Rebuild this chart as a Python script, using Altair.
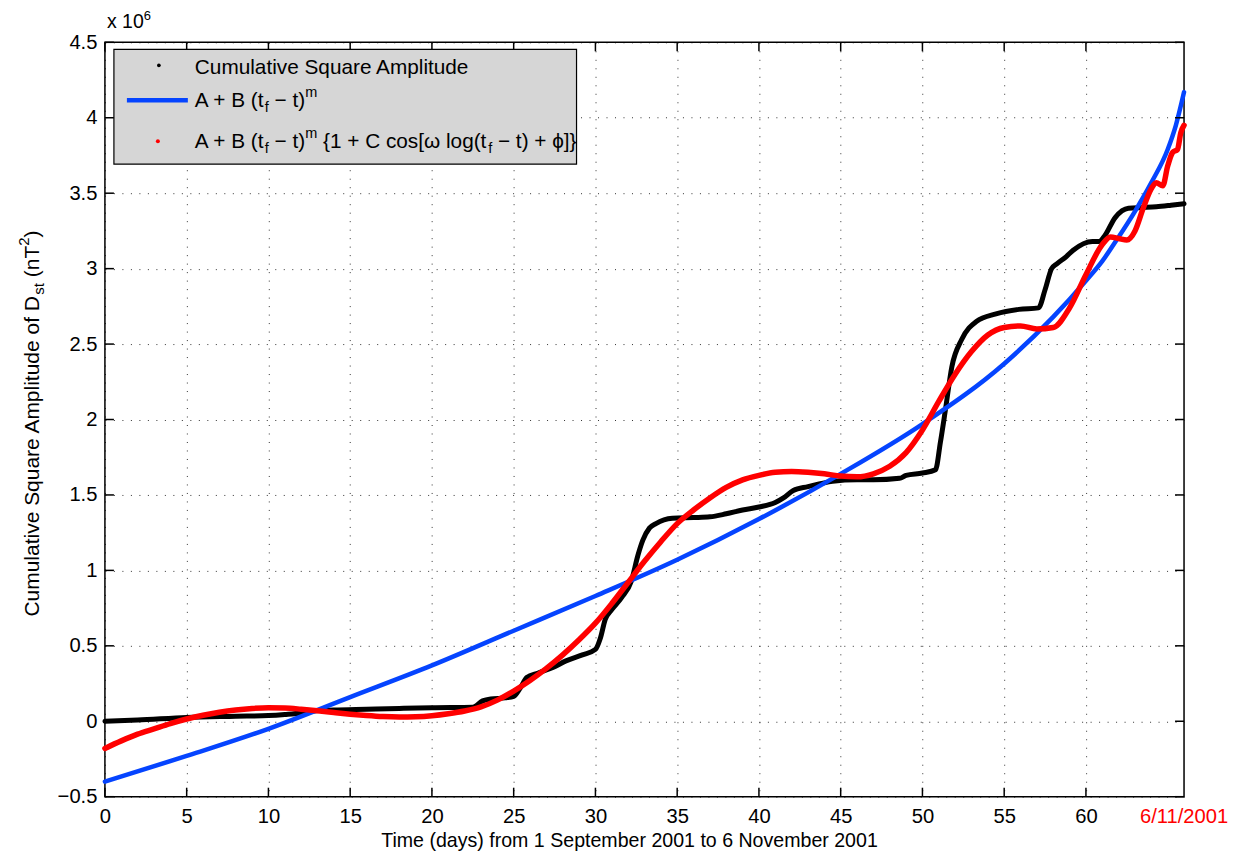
import altair as alt
import pandas as pd

# ---------------- data ----------------
obs_day = [0, 2, 5, 8, 10, 11, 12, 12.7, 14, 16, 18, 20, 22.5, 23.1, 23.6, 24.5, 25.0, 25.4,
           25.8, 26.5, 27.4, 28.2, 29.2, 30.0, 30.3, 30.6, 31.0, 31.6, 32.2, 32.6, 32.9, 33.3,
           33.7, 34.7, 36, 37, 38, 39, 40, 41, 41.5, 42.1, 43, 44.5, 46, 47, 48.6, 49.0, 50.0,
           50.8, 51.1, 51.4, 51.8, 52.4, 53.3, 54.5, 55.9, 57.1, 57.5, 57.9, 58.2, 58.8, 59.2,
           60.4, 60.8, 61.1, 61.8, 62.6, 63.5, 64.3, 65.2, 66]
obs_val = [0.0, 0.008, 0.025, 0.033, 0.038, 0.045, 0.055, 0.068, 0.075, 0.08, 0.085, 0.09,
           0.093, 0.135, 0.148, 0.155, 0.165, 0.22, 0.29, 0.32, 0.357, 0.40, 0.44, 0.476, 0.55,
           0.675, 0.74, 0.82, 0.93, 1.10, 1.20, 1.28, 1.31, 1.345, 1.35, 1.355, 1.375, 1.40,
           1.42, 1.45, 1.48, 1.53, 1.555, 1.59, 1.60, 1.60, 1.61, 1.63, 1.645, 1.667, 1.85,
           2.06, 2.35, 2.53, 2.65, 2.70, 2.73, 2.74, 2.86, 3.00, 3.03, 3.08, 3.12, 3.18, 3.18,
           3.21, 3.34, 3.40, 3.405, 3.41, 3.42, 3.43]

pl_day = [0, 5, 10, 15, 20, 25, 30, 35, 40, 45, 50, 55, 58, 60, 61, 62, 63, 64, 65, 65.5, 66]
pl_val = [-0.40, -0.23, -0.05, 0.16, 0.37, 0.60, 0.83, 1.07, 1.34, 1.64, 1.97, 2.37, 2.68,
          2.92, 3.05, 3.21, 3.38, 3.57, 3.79, 3.95, 4.17]

lp_day = [0, 1, 2, 3, 4, 5, 6, 7, 8, 9, 10, 11, 12, 13, 14, 15, 16, 17, 18, 19, 20, 21, 22,
          23, 24, 25, 26, 27, 28, 29, 30, 31, 32, 33, 34, 35, 36, 37, 38, 39, 40, 41, 42, 43,
          44, 45, 46, 47, 48, 49, 50, 51, 52, 53, 54, 55, 56, 57, 58, 59, 60, 61, 61.5, 62,
          62.5, 63, 63.5, 64, 64.3, 64.7, 65, 65.3, 65.6, 65.8, 66]
lp_val = [-0.18, -0.13, -0.085, -0.05, -0.015, 0.015, 0.04, 0.06, 0.075, 0.085, 0.09, 0.088,
          0.08, 0.07, 0.058, 0.047, 0.038, 0.031, 0.028, 0.03, 0.037, 0.05, 0.068, 0.095,
          0.14, 0.20, 0.27, 0.35, 0.44, 0.54, 0.65, 0.78, 0.92, 1.06, 1.19, 1.31, 1.40, 1.48,
          1.55, 1.60, 1.63, 1.65, 1.655, 1.65, 1.64, 1.625, 1.62, 1.64, 1.69, 1.78, 1.93,
          2.12, 2.30, 2.45, 2.56, 2.61, 2.62, 2.60, 2.61, 2.74, 2.96, 3.16, 3.21, 3.20, 3.19,
          3.25, 3.40, 3.53, 3.57, 3.55, 3.68, 3.77, 3.79, 3.90, 3.95]

x_ticks = [0, 5, 10, 15, 20, 25, 30, 35, 40, 45, 50, 55, 60]
y_ticks = [-0.5, 0, 0.5, 1, 1.5, 2, 2.5, 3, 3.5, 4, 4.5]
end_day = [66]
end_label = ["6/11/2001"]

# ---------------- styling ----------------
W, H = 1080, 755
FONT = "Liberation Sans"
TICK_FS = 20.2      # tick labels
LEG_FS = 20.8       # legend text
LEG_SS = 14.5       # legend sub/superscripts
YT_FS = 21          # y-axis title
YT_SS = 15
XT_FS = 19.6        # x-axis title
EXP_FS = 19.5       # "x 10^6"
BLUE = "#0544ff"
RED = "#ff0000"

obs = pd.DataFrame({"day": obs_day, "value": obs_val})
pl = pd.DataFrame({"day": pl_day, "value": pl_val})
lp = pd.DataFrame({"day": lp_day, "value": lp_val})
xt = pd.DataFrame({"day": x_ticks})
yt = pd.DataFrame({"value": y_ticks})
endd = pd.DataFrame({"day": end_day, "label": end_label})
one = pd.DataFrame({"k": [0]})

x_scale = alt.Scale(domain=[0, 66], nice=False, zero=False)
y_scale = alt.Scale(domain=[-0.5, 4.5], nice=False, zero=False)

x_enc = alt.X("day:Q", scale=x_scale, axis=alt.Axis(
    values=x_ticks, title=None, grid=True, gridDash=[1, 7.5], gridColor="#000",
    gridWidth=1, gridOpacity=0.8, domain=False, ticks=False, labelPadding=26,
    labelBaseline="alphabetic", labelFont=FONT, labelFontSize=TICK_FS, labelColor="black",
    labelFlush=False, labelOverlap=False))
y_enc = alt.Y("value:Q", scale=y_scale, axis=alt.Axis(
    values=y_ticks, title=None, grid=True, gridDash=[1, 7.5], gridColor="#000",
    gridWidth=1, gridOpacity=0.8, domain=False, ticks=False, labelPadding=8,
    format="~g", labelFont=FONT, labelFontSize=TICK_FS, labelColor="black",
    labelFlush=False, labelOverlap=False))

layers = []
layers.append(alt.Chart(obs).mark_line(color="black", strokeWidth=5, interpolate="monotone",
                                       strokeCap="round").encode(x=x_enc, y=y_enc))
layers.append(alt.Chart(pl).mark_line(color=BLUE, strokeWidth=4.5, interpolate="monotone",
                                      strokeCap="round").encode(x=x_enc, y=y_enc))
layers.append(alt.Chart(lp).mark_line(color=RED, strokeWidth=5.5, interpolate="monotone",
                                      strokeCap="round").encode(x=x_enc, y=y_enc))

# inward ticks on all four sides
TL = 9
layers.append(alt.Chart(xt).mark_rule(color="black", strokeWidth=1.5).encode(
    x=x_enc, y=alt.value(H), y2=alt.value(H - TL)))
layers.append(alt.Chart(xt).mark_rule(color="black", strokeWidth=1.5).encode(
    x=x_enc, y=alt.value(0), y2=alt.value(TL)))
layers.append(alt.Chart(yt).mark_rule(color="black", strokeWidth=1.5).encode(
    y=y_enc, x=alt.value(0), x2=alt.value(TL)))
layers.append(alt.Chart(yt).mark_rule(color="black", strokeWidth=1.5).encode(
    y=y_enc, x=alt.value(W - TL), x2=alt.value(W)))

# red end-date tick label
layers.append(alt.Chart(endd).mark_text(font=FONT, fontSize=TICK_FS, color=RED, align="center",
                                        baseline="alphabetic").encode(
    x=x_enc, y=alt.value(H + 26), text="label:N"))

# ---------------- rich-text helper ----------------
AW = {' ': 278, '+': 584, '\u2212': 584, '(': 333, ')': 333, '{': 334, '}': 334, '[': 278,
      ']': 278, 'A': 667, 'B': 667, 'C': 722, 'D': 722, 'T': 611, 'S': 667, 'a': 556,
      'c': 500, 'd': 556, 'e': 556, 'f': 278, 'g': 556, 'i': 222, 'l': 222, 'm': 833,
      'n': 556, 'o': 556, 'p': 556, 'q': 556, 'r': 333, 's': 500, 't': 278, 'u': 556,
      'v': 500, 'x': 500, '\u03c9': 860, '\u03d5': 660}


def tw(s, size):
    return sum(AW.get(c, 556) for c in s) / 1000.0 * size


def run(segs, x0, y0, vertical=False, color="black"):
    out = []
    pos = 0.0
    for txt, size, shift in segs:
        lead = len(txt) - len(txt.lstrip(' '))
        trail = len(txt) - len(txt.rstrip(' '))
        pos += tw(' ' * lead, size)
        core = txt.strip(' ')
        if vertical:
            xv, yv, ang = x0 + shift, y0 - pos, 270
        else:
            xv, yv, ang = x0 + pos, y0 + shift, 0
        out.append(alt.Chart(one).mark_text(
            text=core, font=FONT, fontSize=size, align="left", baseline="alphabetic",
            angle=ang, color=color).encode(x=alt.value(xv), y=alt.value(yv)))
        pos += tw(core, size) + tw(' ' * trail, size)
    return out


def total(segs):
    return sum(tw(t, s) for t, s, _ in segs)


# ---------------- legend box ----------------
layers.append(alt.Chart(one).mark_rect(fill="#d6d6d6", stroke="black", strokeWidth=1.2).encode(
    x=alt.value(9), x2=alt.value(472), y=alt.value(7), y2=alt.value(122)))
layers.append(alt.Chart(one).mark_circle(color="black", size=14, opacity=1).encode(
    x=alt.value(54), y=alt.value(23)))
layers.append(alt.Chart(one).mark_rule(color=BLUE, strokeWidth=4.5).encode(
    x=alt.value(22), x2=alt.value(83), y=alt.value(58)))
layers.append(alt.Chart(one).mark_circle(color=RED, size=16, opacity=1).encode(
    x=alt.value(53), y=alt.value(99)))

MINUS = "\u2212"
layers += run([("Cumulative Square Amplitude", LEG_FS, 0)], 90, 32)
layers += run([("A + B (t", LEG_FS, 0), ("f", LEG_SS, 5), (" " + MINUS + " t)", LEG_FS, 0),
               ("m", LEG_SS, -10)], 90, 64.5)
layers += run([("A + B (t", LEG_FS, 0), ("f", LEG_SS, 5), (" " + MINUS + " t)", LEG_FS, 0),
               ("m", LEG_SS, -10), (" {1 + C cos[\u03c9 log(t", LEG_FS, 0), ("f", LEG_SS, 5),
               (" " + MINUS + " t) + \u03d5]}", LEG_FS, 0)], 90, 106)

# ---------------- axis titles / exponent ----------------
ysegs = [("Cumulative Square Amplitude of D", YT_FS, 0), ("st", YT_SS, 5), (" (nT", YT_FS, 0),
         ("2", YT_SS, -10), (")", YT_FS, 0)]
layers += run(ysegs, -66, H / 2 + total(ysegs) / 2 + 4, vertical=True)

layers.append(alt.Chart(one).mark_text(
    text="Time (days) from 1 September 2001 to 6 November 2001", font=FONT, fontSize=XT_FS,
    align="center", baseline="alphabetic", color="black").encode(
    x=alt.value(525), y=alt.value(H + 50)))

layers += run([("x 10", EXP_FS, 0), ("6", 13, -8.5)], 2, -14)

chart = alt.layer(*layers).properties(
    width=W, height=H,
    autosize=alt.AutoSizeParams(type="none"),
    padding={"left": 97, "top": 34, "right": 45, "bottom": 56},
    background="white",
).configure_view(stroke="black", strokeWidth=1.5)

chart.save("out.html", embed_options={"renderer": "svg", "actions": False})
